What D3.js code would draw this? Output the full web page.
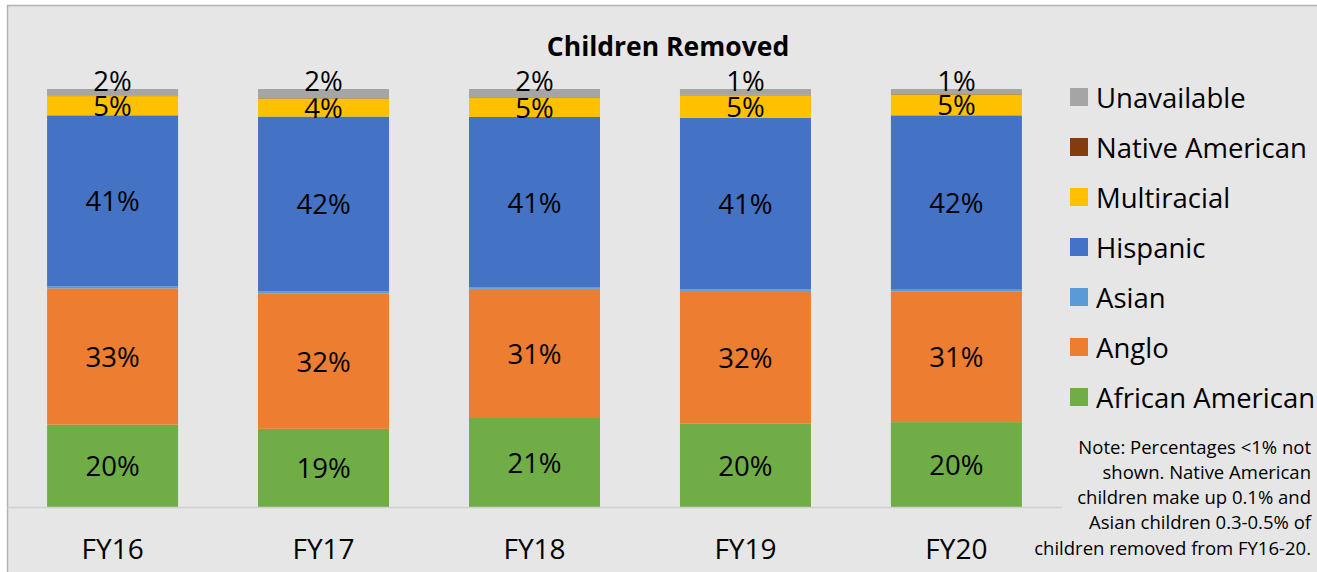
<!DOCTYPE html>
<head>
    <meta charset="utf-8">
    <style>
        body { margin: 0; background: #ffffff; }
        text { font-family: "Open Sans", "Noto Sans", sans-serif; }
    </style>
</head>
<body>
    <div id="graph"></div>
    <script src="https://d3js.org/d3.v7.min.js"></script>
    <script>
        const WIDTH = 1317;
        const HEIGHT = 572;

        // datos
        const years = ["FY16", "FY17", "FY18", "FY19", "FY20"];
        const groups = ["African American", "Anglo", "Asian", "Hispanic", "Multiracial", "Native American", "Unavailable"];
        const africanAmerican = [19.7, 18.7, 21.3, 20.0, 20.3];
        const anglo = [32.6, 32.4, 30.9, 31.7, 31.3];
        const asian = [0.5, 0.5, 0.4, 0.4, 0.4];
        const hispanic = [40.9, 41.8, 40.7, 41.0, 41.7];
        const multiracial = [4.6, 4.3, 4.6, 5.4, 5.0];
        const nativeAmerican = [0.1, 0.1, 0.1, 0.1, 0.1];
        const unavailable = [1.6, 2.2, 2.0, 1.4, 1.2];
        const noteLines = [
            "Note: Percentages <1% not",
            "shown. Native American",
            "children make up 0.1% and",
            "Asian children 0.3-0.5% of",
            "children removed from FY16-20."
        ];

        const colors = {
            "African American": "#70ad47",
            "Anglo": "#ed7d31",
            "Asian": "#5b9bd5",
            "Hispanic": "#4472c4",
            "Multiracial": "#ffc000",
            "Native American": "#843c0c",
            "Unavailable": "#a5a5a5"
        };

        const series = [africanAmerican, anglo, asian, hispanic, multiracial, nativeAmerican, unavailable];
        const table = years.map((y, i) => {
            const row = { year: y };
            groups.forEach((g, k) => row[g] = series[k][i]);
            return row;
        });

        const stacked = d3.stack().keys(groups)(table);

        const xScale = d3.scaleBand()
            .domain(years)
            .range([7, 1062])
            .paddingInner(0.379)
            .paddingOuter(0.19);

        const yScale = d3.scaleLinear()
            .domain([0, 100])
            .range([507, 89]);

        const svg = d3.select("#graph")
            .append("svg")
            .attr("width", WIDTH)
            .attr("height", HEIGHT);

        // fondo del gráfico
        svg.append("rect")
            .attr("x", 7.5).attr("y", 5.5)
            .attr("width", WIDTH).attr("height", HEIGHT)
            .attr("fill", "#e6e6e6")
            .attr("stroke", "#b4b4b4")
            .attr("stroke-width", 1.5);

        // título
        svg.append("text")
            .attr("x", 668).attr("y", 46)
            .attr("text-anchor", "middle")
            .attr("dominant-baseline", "central")
            .attr("font-size", 26.5)
            .attr("font-weight", "bold")
            .text("Children Removed");

        // barras apiladas
        const layers = svg.selectAll("g.layer")
            .data(stacked)
            .enter()
            .append("g")
            .attr("class", "layer")
            .attr("fill", d => colors[d.key]);

        layers.selectAll("rect")
            .data(d => d)
            .enter()
            .append("rect")
            .attr("x", d => xScale(d.data.year))
            .attr("y", d => yScale(d[1]))
            .attr("width", xScale.bandwidth())
            .attr("height", d => yScale(d[0]) - yScale(d[1]));

        // eje x
        const xAxis = svg.append("g")
            .attr("transform", "translate(0, 507)")
            .call(d3.axisBottom(xScale).tickSize(0).tickPadding(0));
        xAxis.select(".domain").attr("stroke", "#d0d0d0").attr("stroke-width", 1.5);
        xAxis.selectAll(".tick text")
            .attr("y", 41)
            .attr("dy", null)
            .attr("dominant-baseline", "central")
            .attr("font-family", "'Open Sans', sans-serif")
            .attr("font-size", 28)
            .attr("fill", "#000");

        // etiquetas (>=1%)
        layers.each(function (layer) {
            d3.select(this).selectAll("text")
                .data(layer.filter(d => d[1] - d[0] >= 1))
                .enter()
                .append("text")
                .attr("x", d => xScale(d.data.year) + xScale.bandwidth() / 2)
                .attr("y", d => layer.key === "Unavailable"
                    ? yScale(d[1]) - 9
                    : (yScale(d[0]) + yScale(d[1])) / 2)
                .attr("text-anchor", "middle")
                .attr("dominant-baseline", "central")
                .attr("font-size", 27.5)
                .attr("fill", "#000")
                .text(d => Math.round(d[1] - d[0]) + "%");
        });

        // leyenda
        const legend = svg.selectAll("g.legend")
            .data(groups.slice().reverse())
            .enter()
            .append("g")
            .attr("class", "legend")
            .attr("transform", (d, i) => `translate(1070, ${97 + i * 50})`);

        legend.append("rect")
            .attr("x", 0).attr("y", -9)
            .attr("width", 18).attr("height", 18)
            .attr("fill", d => colors[d]);

        legend.append("text")
            .attr("x", 26).attr("y", 0)
            .attr("dominant-baseline", "central")
            .attr("font-size", 27.5)
            .attr("fill", "#000")
            .text(d => d);

        // nota
        svg.append("g")
            .selectAll("text")
            .data(noteLines)
            .enter()
            .append("text")
            .attr("x", 1311)
            .attr("y", (d, i) => 446 + i * 25.3)
            .attr("text-anchor", "end")
            .attr("dominant-baseline", "central")
            .attr("font-size", 18.5)
            .attr("fill", "#000")
            .text(d => d);
    </script>
</body>
</html>
